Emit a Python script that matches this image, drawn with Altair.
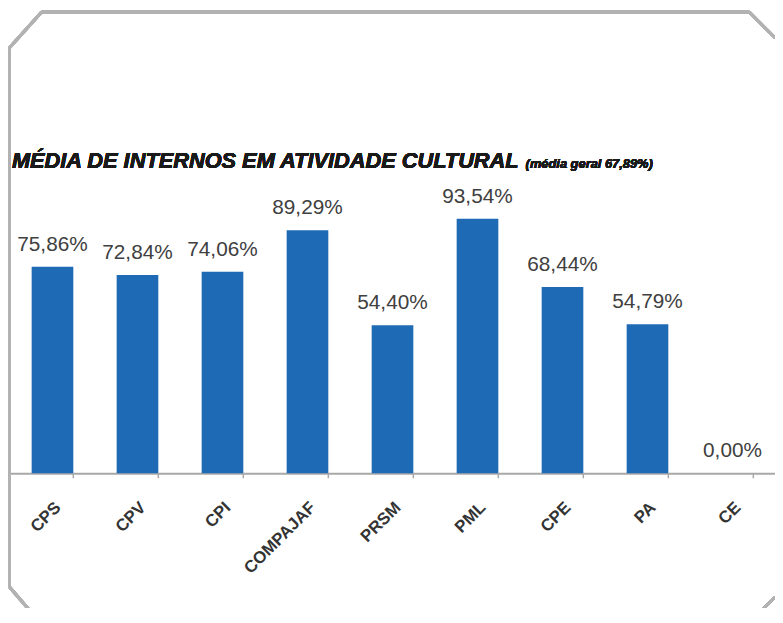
import altair as alt
import pandas as pd

categories = ["CPS", "CPV", "CPI", "COMPAJAF", "PRSM", "PML", "CPE", "PA", "CE"]
values = [75.86, 72.84, 74.06, 89.29, 54.40, 93.54, 68.44, 54.79, 0.00]
title_text = "MÉDIA DE INTERNOS EM ATIVIDADE CULTURAL"
subtitle_text = "(média geral 67,89%)"

df = pd.DataFrame({"cat": categories, "val": values})
df["label"] = [f"{v:.2f}".replace(".", ",") + "%" for v in values]

W, H = 773, 275
PAD = {"left": 2, "top": 192, "right": 0, "bottom": 133}
BAR = "#1F6AB4"
GRAY = "#A8A8A8"
FRAME = "#B2B2B2"

xscale = alt.Scale(paddingInner=0.51, paddingOuter=0.255)
xenc = alt.X(
    "cat:N", sort=categories, scale=xscale,
    axis=alt.Axis(title=None, labelAngle=-45, ticks=False, domainColor=GRAY,
                  domainWidth=2, labelFont="Liberation Sans", labelFontWeight="bold",
                  labelFontSize=17, labelColor="#333333", labelPadding=26, grid=False),
)
yenc = alt.Y("val:Q", scale=alt.Scale(domain=[0, 100]), axis=None)

bars = alt.Chart(df).mark_bar(color=BAR).encode(x=xenc, y=yenc)

texts = alt.Chart(df).mark_text(
    baseline="bottom", dy=-12, fontSize=21, font="Liberation Sans", color="#404040"
).encode(x=alt.X("cat:N", sort=categories), y=yenc, text="label:N")

ticks = alt.Chart(df).mark_rule(color=GRAY, strokeWidth=1.5).encode(
    x=alt.X("cat:N", sort=categories, bandPosition=1),
    y=alt.value(H), y2=alt.value(H + 5),
)

title = alt.Chart(df).mark_text(
    text=title_text, align="left", baseline="alphabetic", font="Liberation Sans",
    fontSize=22, fontWeight="bold", fontStyle="italic", color="#1A1A1A",
).encode(x=alt.value(2), y=alt.value(-33))

subtitle = alt.Chart(df).mark_text(
    text=subtitle_text, align="left", baseline="alphabetic", font="Liberation Sans",
    fontSize=13, fontWeight="bold", fontStyle="italic", color="#1A1A1A",
).encode(x=alt.value(521), y=alt.value(-33))

segments = [
    (32, -191, 747, -191),
    (747, -191, 773, -165),
    (-0.5, -155, 32, -191),
    (-0.5, -155, -0.5, 390),
    (-0.5, 390, 28, 423),
    (750, 423, 773, 400),
]
frame_layers = [
    alt.Chart(df).mark_rule(color=FRAME, strokeWidth=3).encode(
        x=alt.value(a), y=alt.value(b), x2=alt.value(c), y2=alt.value(d)
    )
    for (a, b, c, d) in segments
]

chart = alt.layer(bars, texts, ticks, title, subtitle, *frame_layers).properties(
    width=W, height=H, padding=PAD,
    autosize=alt.AutoSizeParams(type="none"), background="white",
).configure_view(stroke=None)

chart.save("out.html", embed_options={"renderer": "svg", "actions": False})
